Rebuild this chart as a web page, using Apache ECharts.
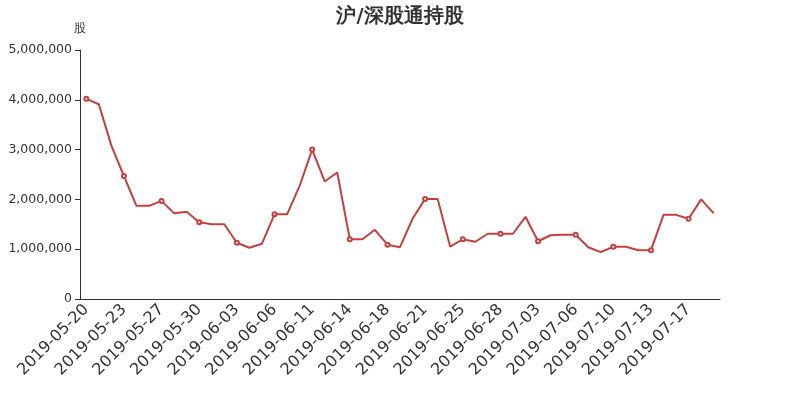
<!DOCTYPE html>
<html><head><meta charset="utf-8">
<script src="https://cdn.jsdelivr.net/npm/echarts@6/dist/echarts.min.js"></script>
<style>html,body{margin:0;padding:0;background:#fff}#c{width:800px;height:400px}</style>
</head><body><div id="c"></div>
<script>
var titleText = '沪/深股通持股';
var yName = '股';
var dates = [
 '2019-05-20','2019-05-21','2019-05-22','2019-05-23','2019-05-24','2019-05-25','2019-05-27','2019-05-28','2019-05-29','2019-05-30',
 '2019-05-31','2019-06-01','2019-06-03','2019-06-04','2019-06-05','2019-06-06','2019-06-07','2019-06-10','2019-06-11','2019-06-12',
 '2019-06-13','2019-06-14','2019-06-15','2019-06-17','2019-06-18','2019-06-19','2019-06-20','2019-06-21','2019-06-22','2019-06-24',
 '2019-06-25','2019-06-26','2019-06-27','2019-06-28','2019-07-01','2019-07-02','2019-07-03','2019-07-04','2019-07-05','2019-07-06',
 '2019-07-08','2019-07-09','2019-07-10','2019-07-11','2019-07-12','2019-07-13','2019-07-15','2019-07-16','2019-07-17','2019-07-18',
 '2019-07-19'
];
var holdings = [
 4020000,3910000,3080000,2470000,1870000,1870000,1970000,1720000,1750000,1540000,
 1500000,1500000,1130000,1030000,1110000,1700000,1700000,2270000,3000000,2360000,
 2540000,1200000,1200000,1390000,1090000,1040000,1610000,2010000,2010000,1050000,
 1200000,1150000,1310000,1310000,1310000,1650000,1160000,1280000,1290000,1290000,
 1040000,940000,1050000,1050000,980000,980000,1690000,1690000,1610000,2000000,
 1720000
];
var chart = echarts.init(document.getElementById('c'));
chart.setOption({
  animation: false,
  textStyle: { fontFamily: 'DejaVu Sans' },
  title: { text: titleText, left: 'center', top: 2, textStyle: { fontSize: 19.5, fontWeight: 'bold', color: '#333', fontFamily: 'DejaVu Sans' } },
  grid: { left: 80, right: 80, top: 50, bottom: 101 },
  xAxis: {
    type: 'category', data: dates, boundaryGap: true,
    axisLine: { lineStyle: { color: '#333' } },
    axisTick: { lineStyle: { color: '#333' } },
    axisLabel: { rotate: 45, interval: 2, fontSize: 16, color: '#333', fontFamily: 'DejaVu Sans' }
  },
  yAxis: {
    type: 'value', name: yName, min: 0, max: 5000000, interval: 1000000,
    nameTextStyle: { color: '#333', fontSize: 12, fontFamily: 'DejaVu Sans' },
    axisLine: { show: true, lineStyle: { color: '#333' } },
    axisTick: { show: true, lineStyle: { color: '#333' } },
    splitLine: { show: false },
    axisLabel: { fontSize: 12.5, color: '#333', fontFamily: 'DejaVu Sans', formatter: function (v) { return v.toLocaleString('en-US'); } }
  },
  series: [{
    type: 'line', data: holdings, symbol: 'emptyCircle', symbolSize: 4, showAllSymbol: false,
    itemStyle: { color: '#c44040' }, lineStyle: { width: 2, color: '#c44040' }
  }]
});
</script></body></html>
